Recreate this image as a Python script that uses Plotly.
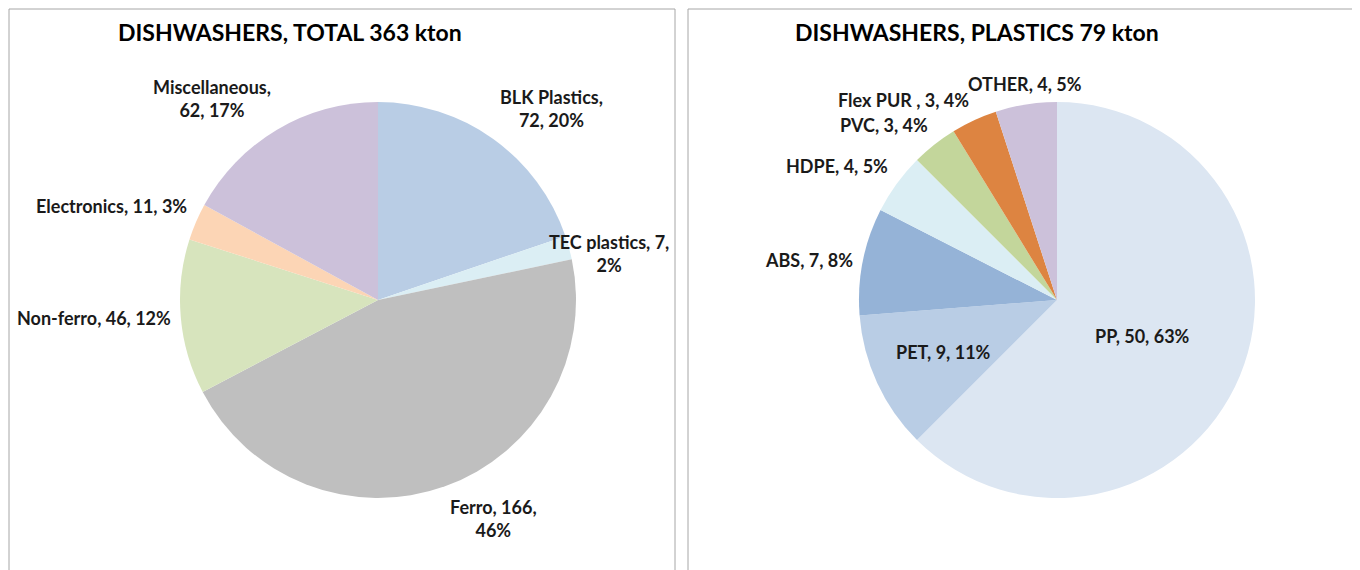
import math
import plotly.graph_objects as go

# left pie: total composition (kton)
total_labels = ["BLK Plastics", "TEC plastics", "Ferro", "Non-ferro", "Electronics", "Miscellaneous"]
total_values = [72, 7, 166, 46, 11, 62]
total_pct = ["20%", "2%", "46%", "12%", "3%", "17%"]
total_colors = ["#B9CDE5", "#DBEEF4", "#BFBFBF", "#D7E4BD", "#FCD5B5", "#CCC1DA"]

# right pie: plastics breakdown (kton)
plastic_labels = ["PP", "PET", "ABS", "HDPE", "PVC", "Flex PUR ", "OTHER"]
plastic_values = [50, 9, 7, 4, 3, 3, 4]
plastic_pct = ["63%", "11%", "8%", "5%", "4%", "4%", "5%"]
plastic_colors = ["#DCE6F2", "#B9CDE5", "#95B3D7", "#DBEEF4", "#C3D69B", "#DD8441", "#CCC1DA"]

W, H = 1360, 570
OFF = 8  # page body margin
R = 198
FONT = "Lato, 'Open Sans', sans-serif"

# label line breaks as in the original
total_text = [
    "BLK Plastics,<br>72, 20%",
    "TEC plastics, 7,<br>2%",
    "Ferro, 166,<br>46%",
    "Non-ferro, 46, 12%",
    "Electronics, 11, 3%",
    "Miscellaneous,<br>62, 17%",
]
plastic_text = ["%s, %s, %s" % (l, v, p) for l, v, p in zip(plastic_labels, plastic_values, plastic_pct)]

# label distance from centre (fraction of radius); below 0.8 the label is centred inside the slice
total_lab_r = [1.04, 0.885, 1.04, 1.04, 1.04, 1.04]
plastic_lab_r = [0.47, 0.63, 1.04, 1.04, 1.04, 1.04, 1.04]


def px_x(x):
    return (x - OFF) / W


def px_y(y):
    return 1 - (y - OFF) / H


def dom(cx, cy, r):
    return dict(x=[px_x(cx - r), px_x(cx + r)], y=[px_y(cy + r), px_y(cy - r)])


def add_pie(fig, labels, values, colors, texts, lab_r, cx, cy):
    fig.add_trace(go.Pie(
        labels=labels, values=values, textinfo="none", sort=False,
        direction="clockwise", rotation=0,
        marker=dict(colors=colors, line=dict(width=0)),
        domain=dom(cx, cy, R), showlegend=False,
    ))
    total = sum(values)
    cum = 0
    for v, t, rf in zip(values, texts, lab_r):
        # label sits on the slice's mid angle
        ang = 2 * math.pi * (cum + v / 2) / total
        cum += v
        s, c = math.sin(ang), math.cos(ang)
        x = cx + rf * R * s
        y = cy - rf * R * c
        if rf < 0.8:
            xa, ya = "center", "middle"
        else:
            xa = "left" if s > 0.3 else ("right" if s < -0.3 else "center")
            ya = "bottom" if c > 0.3 else ("top" if c < -0.3 else "middle")
        fig.add_annotation(x=px_x(x), y=px_y(y), xref="paper", yref="paper",
                           xanchor=xa, yanchor=ya, align="center",
                           text="<b>%s</b>" % t, showarrow=False,
                           font=dict(family=FONT, size=18, color="#1a1a1a"))


fig = go.Figure()
add_pie(fig, total_labels, total_values, total_colors, total_text, total_lab_r, 378, 300)
add_pie(fig, plastic_labels, plastic_values, plastic_colors, plastic_text, plastic_lab_r, 1057, 300)

# panel borders
for x0, x1 in [(9, 675), (688, 1355)]:
    fig.add_shape(type="rect", xref="paper", yref="paper",
                  x0=px_x(x0), x1=px_x(x1), y0=-0.1, y1=px_y(9),
                  line=dict(color="#A6A6A6", width=1))

for cx, title in [(290, "DISHWASHERS, TOTAL 363 kton"), (977, "DISHWASHERS, PLASTICS 79 kton")]:
    fig.add_annotation(x=px_x(cx), y=px_y(32), xref="paper", yref="paper",
                       xanchor="center", yanchor="middle",
                       text="<b>%s</b>" % title, showarrow=False,
                       font=dict(family=FONT, size=23, color="#000000"))

fig.update_layout(
    width=W, height=H, margin=dict(l=0, r=0, t=0, b=0),
    paper_bgcolor="white", plot_bgcolor="white",
    font=dict(family=FONT),
)
fig.write_html("out.html")
